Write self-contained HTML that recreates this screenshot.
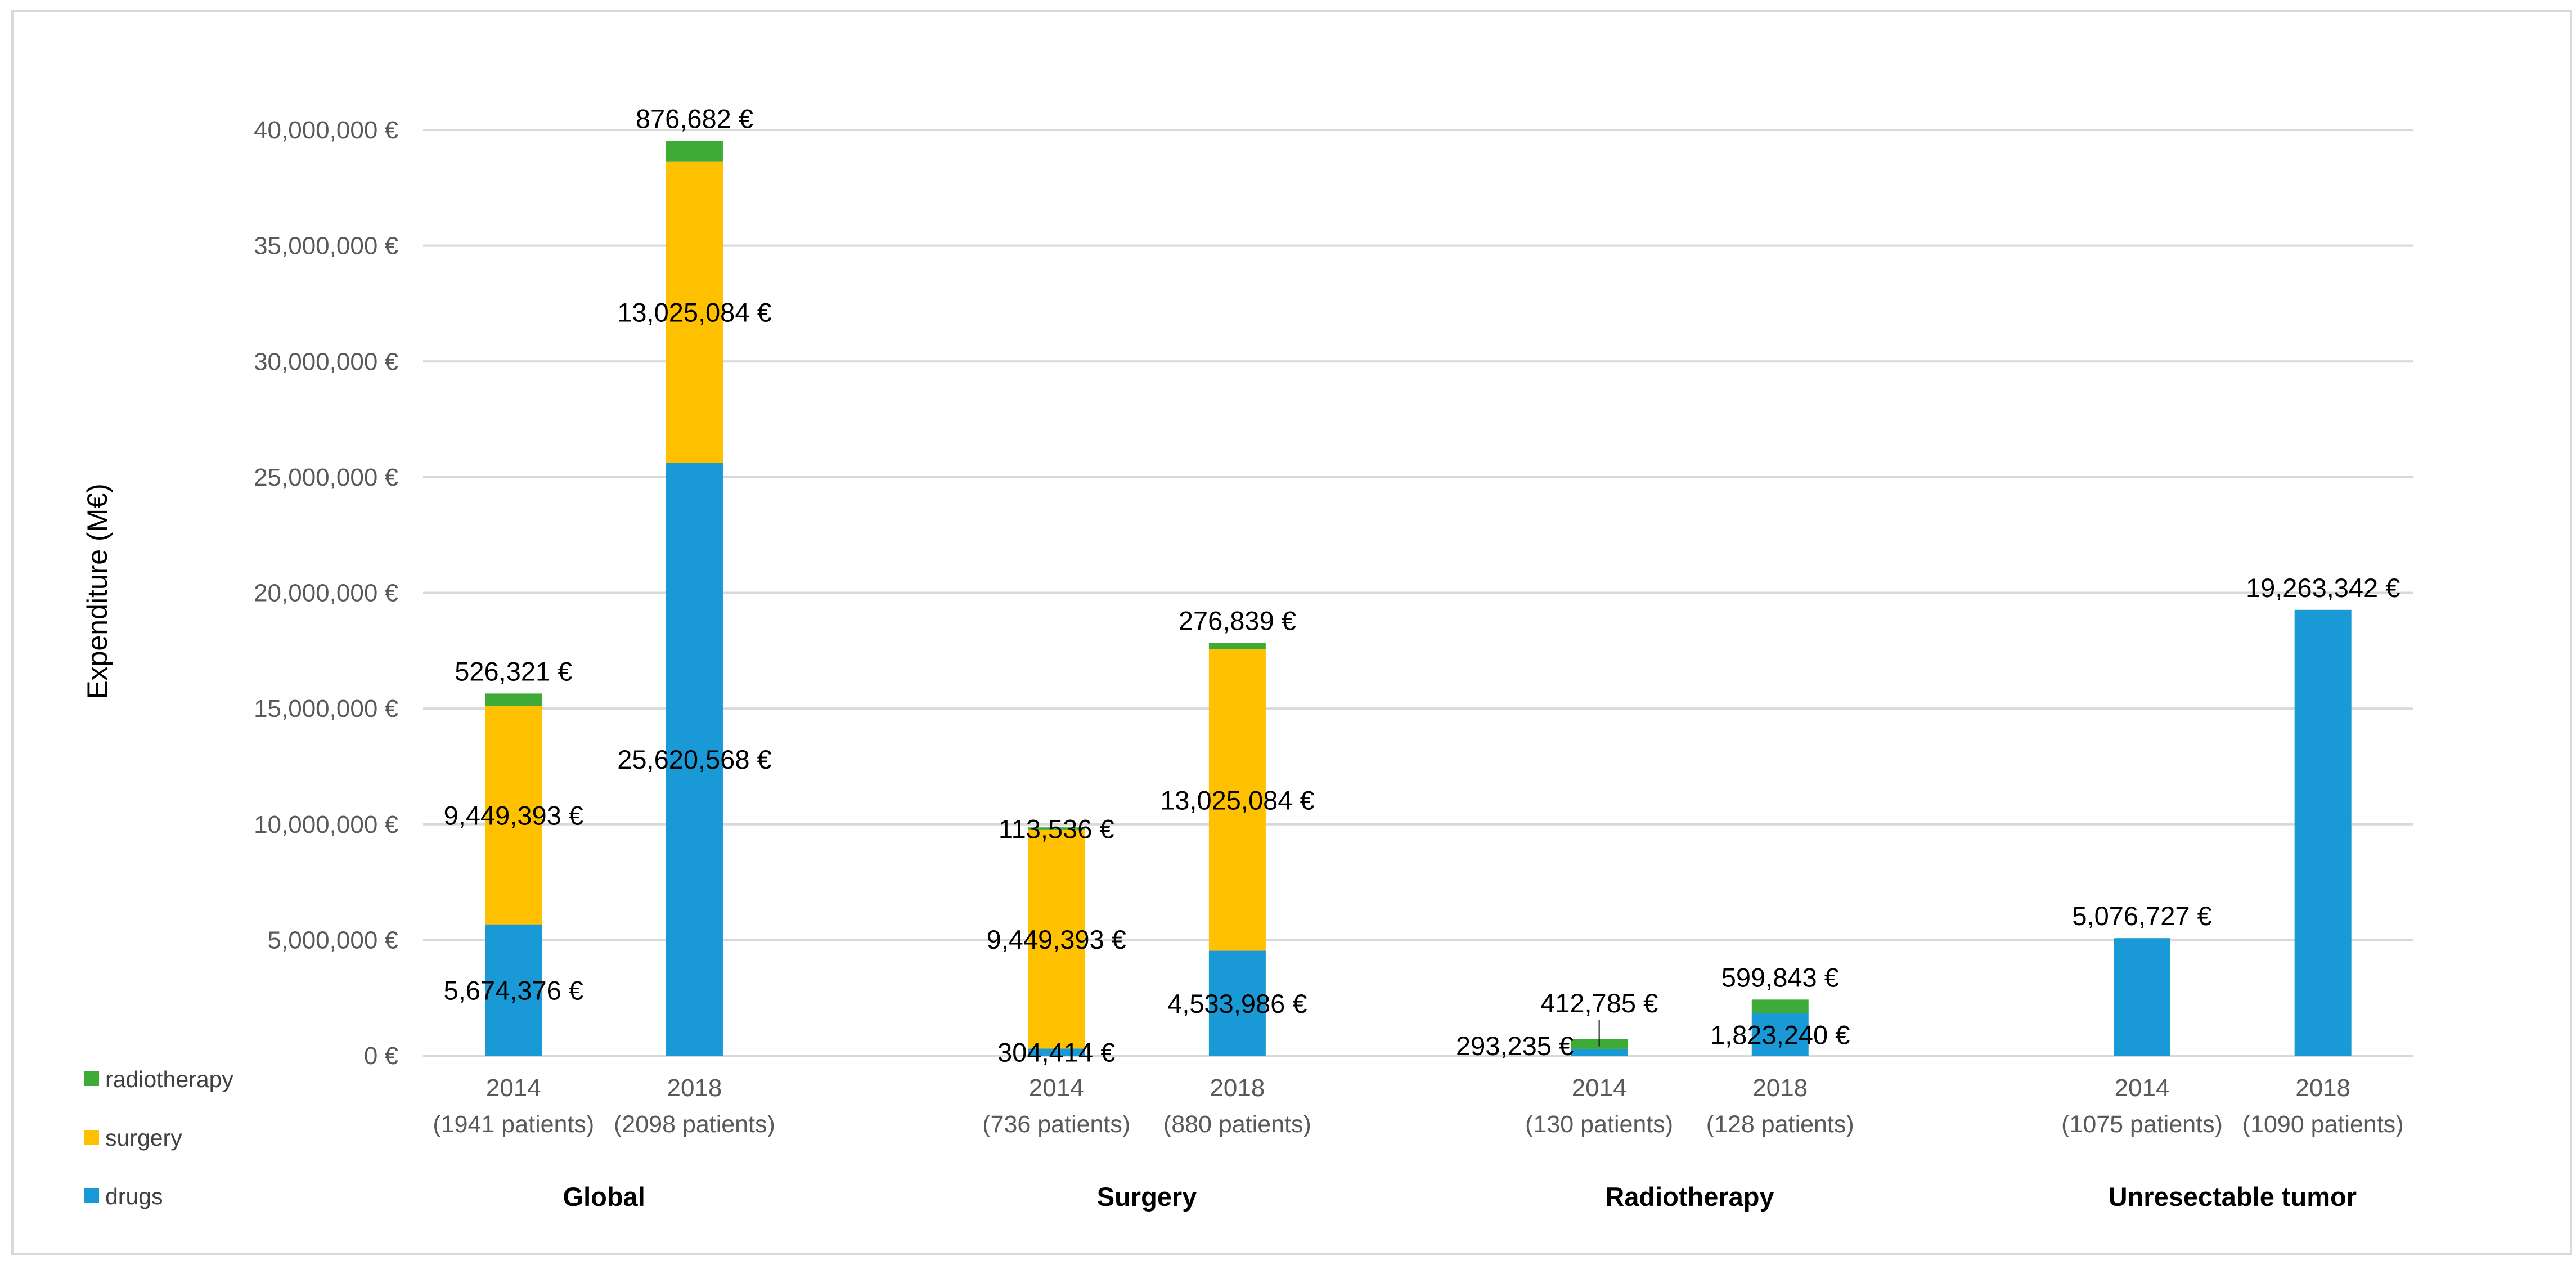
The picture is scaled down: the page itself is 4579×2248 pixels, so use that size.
<!DOCTYPE html>
<html><head><meta charset="utf-8"><style>
html,body{margin:0;padding:0;background:#fff;}
svg{display:block;font-family:"Liberation Sans",sans-serif;}
</style></head><body>
<svg id="chart" width="4579" height="2248" viewBox="0 0 4579 2248" xmlns="http://www.w3.org/2000/svg">
<rect x="22" y="20" width="4548" height="2208" fill="#fff" stroke="#d9d9d9" stroke-width="4"/>
<g id="grid"></g><g id="bars"></g><g id="labels"></g>
<text transform="translate(190,1051) rotate(-90)" text-anchor="middle" font-size="50" fill="#000">Expenditure (M€)</text>
<g>
<rect x="150" y="1904" width="26" height="26" fill="#3eab37"/>
<text x="187" y="1932" font-size="41" fill="#404040">radiotherapy</text>
<rect x="150" y="2008" width="26" height="26" fill="#ffc000"/>
<text x="187" y="2036" font-size="41" fill="#404040">surgery</text>
<rect x="150" y="2112" width="26" height="26" fill="#199ad6"/>
<text x="187" y="2140" font-size="41" fill="#404040">drugs</text>
</g>
</svg>
<script>
const yearLabels = ["2014","2018","2014","2018","2014","2018","2014","2018"];
const patientLabels = ["(1941 patients)","(2098 patients)","(736 patients)","(880 patients)","(130 patients)","(128 patients)","(1075 patients)","(1090 patients)"];
const groupLabels = ["Global","Surgery","Radiotherapy","Unresectable tumor"];
const drugs = [5674376, 25620568, 304414, 4533986, 293235, 1823240, 5076727, 19263342];
const surgery = [9449393, 13025084, 9449393, 13025084, 0, 0, 0, 0];
const radiotherapy = [526321, 876682, 113536, 276839, 412785, 599843, 0, 0];
const yTicks = [0,5000000,10000000,15000000,20000000,25000000,30000000,35000000,40000000];
const slotIndex = [0,1,3,4,6,7,9,10];

const NS="http://www.w3.org/2000/svg";
const X0=752, X1=4290, NSLOT=11, Y0=1876, Y40=231, BW=101;
function y(v){return Y0-(v/40000000)*(Y0-Y40);}
function x(i){return X0+(slotIndex[i]+0.5)*(X1-X0)/NSLOT;}
function fmt(v){return v.toLocaleString("en-US")+" €";}
function mk(tag,attrs,parent,txt){const e=document.createElementNS(NS,tag);for(const k in attrs)e.setAttribute(k,attrs[k]);if(txt!==undefined)e.textContent=txt;parent.appendChild(e);return e;}
const grid=document.getElementById("grid"),bars=document.getElementById("bars"),labels=document.getElementById("labels");

yTicks.forEach(t=>{
  const l=mk("line",{x1:X0,x2:X1,y1:y(t),y2:y(t),stroke:"#d9d9d9","stroke-width":4},grid);
  
  
  const tx=mk("text",{x:708,y:y(t)+15,"text-anchor":"end","font-size":44,fill:"#595959"},grid,fmt(t));
  
  
});

const series=[{v:drugs,c:"#199ad6",n:"drugs"},{v:surgery,c:"#ffc000",n:"surgery"},{v:radiotherapy,c:"#3eab37",n:"radiotherapy"}];
const modes={drugs:["c","c","c","c","l","c","t","t"],surgery:["c","c","c","c","","","",""],radiotherapy:["t","t","c","t","k","t","",""]};
for(let i=0;i<drugs.length;i++){
  let base=0;
  const total=drugs[i]+surgery[i]+radiotherapy[i];
  series.forEach(s=>{
    const v=s.v[i]; if(!v){return;}
    const top=base+v;
    const r=mk("rect",{x:x(i)-BW/2,y:y(top),width:BW,height:y(base)-y(top),fill:s.c},bars);
    
    
    const m=modes[s.n][i];
    let lx=x(i),ly=(y(base)+y(top))/2,anchor="middle";
    if(m==="t"){ly=y(total)-40;}
    else if(m==="l"){lx=x(i)-BW/2+5;anchor="end";}
    else if(m==="k"){ly=y(total)-65;
      const ln=mk("line",{x1:x(i),x2:x(i),y1:ly+30,y2:(y(base)+y(top))/2+4,stroke:"#000","stroke-width":2},labels);
      
      }
    if(m==="l"){ly=(y(0)+y(drugs[i]))/2-12;}
    const t=mk("text",{x:lx,y:ly+17,"text-anchor":anchor,"font-size":47,fill:"#000"},labels,fmt(v));
    
    
    base=top;
  });
  const a=mk("text",{x:x(i),y:1948,"text-anchor":"middle","font-size":44,fill:"#595959"},labels,yearLabels[i]);
  
  
  const b=mk("text",{x:x(i),y:2012,"text-anchor":"middle","font-size":43,fill:"#595959"},labels,patientLabels[i]);
  
  
}
groupLabels.forEach((g,k)=>{
  const gx=(x(2*k)+x(2*k+1))/2;
  const t=mk("text",{x:gx,y:2143,"text-anchor":"middle","font-size":47,"font-weight":"bold",fill:"#000"},labels,g);
  
  
});
</script>
</body></html>
